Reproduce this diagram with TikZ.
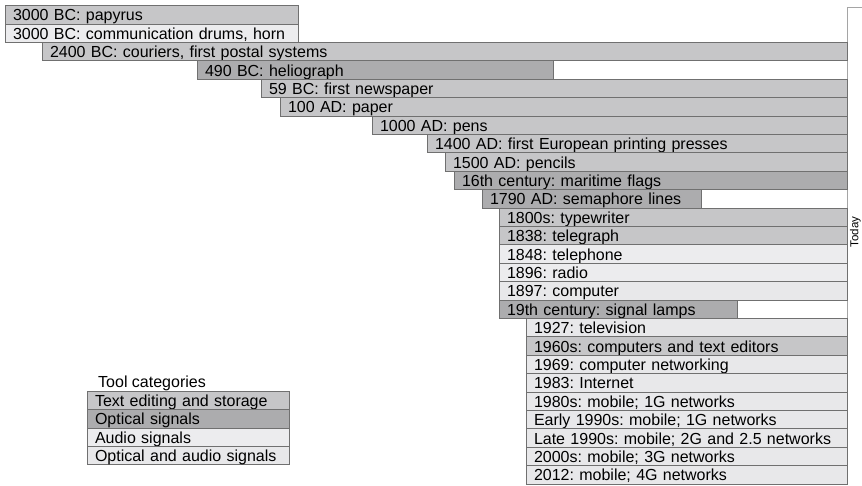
\documentclass[tikz,border=0pt]{standalone}
\usepackage{fontspec}
\setmainfont{Liberation Sans}
\usepackage{xcolor}
\usetikzlibrary{positioning}
\definecolor{textcat}{RGB}{198, 198, 200}
\definecolor{optcat}{RGB}{172, 172, 174}
\definecolor{audcat}{RGB}{236, 236, 238}
\definecolor{bothcat}{RGB}{232, 232, 234}
\definecolor{edge}{RGB}{112, 112, 112}
\definecolor{todayedge}{RGB}{165, 165, 165}
\newcommand{\barfont}{\fontsize{16}{18}\selectfont}
\frenchspacing
\tikzset{
    bar/.style={rectangle, draw=edge, line width=0.8pt, anchor=north west, outer sep=0pt,
        minimum height=18.4pt, minimum width=#1, text width=#1-16pt, align=left,
        inner xsep=8pt, inner ysep=0pt, text height=15.4pt, text depth=3pt, font=\barfont},
    txt/.style={fill=textcat},
    opt/.style={fill=optcat},
    aud/.style={fill=audcat},
    both/.style={fill=bothcat}
}

\begin{document}
\begin{tikzpicture}[x=1pt, y=-1pt]
    \useasboundingbox (0,0) rectangle (862,485);
    % today column on the right
    \node[anchor=north west, minimum width=15pt, minimum height=478pt, fill=white, inner sep=0pt, outer sep=0pt] (todaybox) at (847,7) {};
    \draw[todayedge, line width=0.8pt] (todaybox.south west) -- (todaybox.north west) -- (todaybox.north east);
    \node[rotate=90, font=\fontsize{11.5}{13}\selectfont, inner sep=0pt] (todaylbl) at (855.5,232) {Today};
    % timeline bars
    \node[bar=293pt, txt] (papyrus) at (5,5.5) {3000 BC: papyrus};
    \node[bar=293pt, aud] (drums) at (5,23.9) {3000 BC: communication drums, horn};
    \node[bar=805pt, txt] (couriers) at (42,42.3) {2400 BC: couriers, first postal systems};
    \node[bar=356pt, opt] (helio) at (197,60.7) {490 BC: heliograph};
    \node[bar=586pt, txt] (newspaper) at (261,79.1) {59 BC: first newspaper};
    \node[bar=567pt, txt] (paper) at (280,97.5) {100 AD: paper};
    \node[bar=475pt, txt] (pens) at (372,115.9) {1000 AD: pens};
    \node[bar=420pt, txt] (presses) at (427,134.3) {1400 AD: first European printing presses};
    \node[bar=402pt, txt] (pencils) at (445,152.7) {1500 AD: pencils};
    \node[bar=393pt, opt] (flags) at (454,171.1) {16th century: maritime flags};
    \node[bar=219pt, opt] (semaphore) at (482,189.5) {1790 AD: semaphore lines};
    \node[bar=348pt, txt] (typewriter) at (499,207.9) {1800s: typewriter};
    \node[bar=348pt, txt] (telegraph) at (499,226.3) {1838: telegraph};
    \node[bar=348pt, aud] (telephone) at (499,244.7) {1848: telephone};
    \node[bar=348pt, aud] (radio) at (499,263.1) {1896: radio};
    \node[bar=348pt, both] (computer) at (499,281.5) {1897: computer};
    \node[bar=238pt, opt] (lamps) at (499,299.9) {19th century: signal lamps};
    \node[bar=321pt, both] (television) at (526,318.3) {1927: television};
    \node[bar=321pt, txt] (editors) at (526,336.7) {1960s: computers and text editors};
    \node[bar=321pt, both] (networking) at (526,355.1) {1969: computer networking};
    \node[bar=321pt, both] (internet) at (526,373.5) {1983: Internet};
    \node[bar=321pt, both] (mobile1g) at (526,391.9) {1980s: mobile; 1G networks};
    \node[bar=321pt, both] (early90s) at (526,410.3) {Early 1990s: mobile; 1G networks};
    \node[bar=321pt, both] (late90s) at (526,428.7) {Late 1990s: mobile; 2G and 2.5 networks};
    \node[bar=321pt, both] (mobile3g) at (526,447.1) {2000s: mobile; 3G networks};
    \node[bar=321pt, both] (mobile4g) at (526,465.5) {2012: mobile; 4G networks};
    % legend
    \node[anchor=base west, font=\barfont, inner sep=0pt] (legtitle) at (98,387.3) {Tool categories};
    \node[bar=202pt, txt, minimum height=18.2pt, text height=15.2pt] (legtxt) at (87,391.5) {Text editing and storage};
    \node[bar=202pt, opt, minimum height=18.2pt, text height=15.2pt, anchor=north, below=0pt of legtxt] (legopt) {Optical signals};
    \node[bar=202pt, aud, minimum height=18.2pt, text height=15.2pt, anchor=north, below=0pt of legopt] (legaud) {Audio signals};
    \node[bar=202pt, both, minimum height=18.2pt, text height=15.2pt, anchor=north, below=0pt of legaud] (legboth) {Optical and audio signals};
\end{tikzpicture}
\end{document}
